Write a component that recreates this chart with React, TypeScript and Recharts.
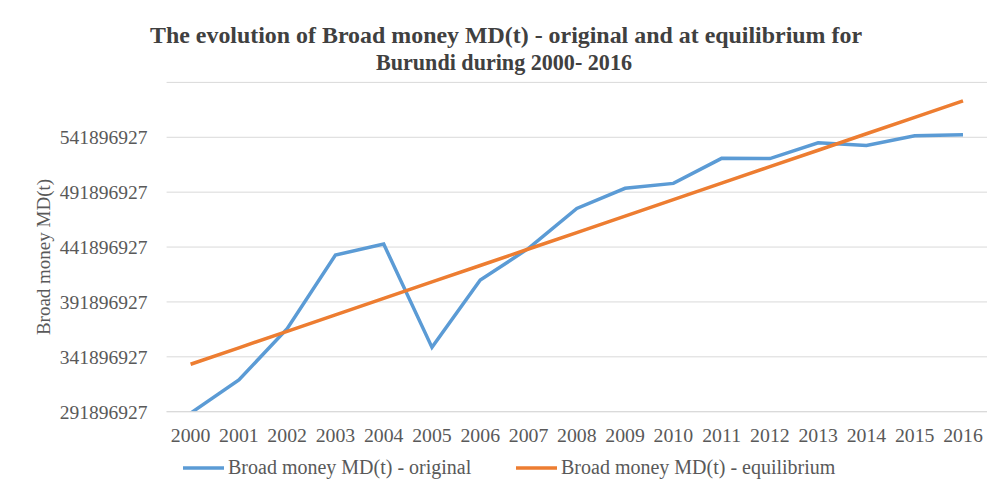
import React from 'react';
import { LineChart, Line, XAxis, YAxis, CartesianGrid } from 'recharts';

const years = ['2000','2001','2002','2003','2004','2005','2006','2007','2008','2009','2010','2011','2012','2013','2014','2015','2016'];
const original = [290600000, 320800000, 367500000, 434600000, 444600000, 350500000, 411800000, 440700000, 477100000, 495400000, 499900000, 522700000, 522500000, 536900000, 534500000, 543300000, 544200000];
const equilibrium = [335100000, 350100000, 365100000, 380100000, 395100000, 410100000, 425100000, 440100000, 455100000, 470100000, 485100000, 500100000, 515100000, 530100000, 545100000, 560100000, 575100000];
const yTicks = [291896927, 341896927, 391896927, 441896927, 491896927, 541896927];
const yDomain = [291896927, 591896927];
const seriesNames = ['Broad money MD(t) - original', 'Broad money MD(t) - equilibrium'];
const titleLines = ['The evolution of Broad money MD(t) - original and at equilibrium  for', 'Burundi  during  2000- 2016'];
const yLabel = 'Broad money MD(t)';

const data = years.map((y, i) => ({ year: y, original: original[i], equilibrium: equilibrium[i] }));

const FONT = '"Liberation Serif", "Times New Roman", serif';
const TEXT = '#595959';
const BLUE = '#5B9BD5';
const ORANGE = '#ED7D31';
const colors = [BLUE, ORANGE];
const legendX = [183, 516];

export default function App() {
  return (
    <div style={{ position: 'relative', width: 995, height: 499, margin: -8, background: '#fff' }}>
      <LineChart width={995} height={499} data={data} margin={{ top: 82.4, right: 8, bottom: 0, left: 0 }}>
        <CartesianGrid horizontal={true} vertical={false} stroke="#d9d9d9" strokeWidth={1} />
        <XAxis
          dataKey="year"
          padding={{ left: 24, right: 24 }}
          axisLine={{ stroke: '#d9d9d9' }}
          tickLine={false}
          tickSize={0}
          tickMargin={16}
          interval={0}
          height={87.3}
          tick={{ fontFamily: FONT, fontSize: 19.8, fill: TEXT }}
        />
        <YAxis
          width={166.6}
          domain={yDomain}
          ticks={yTicks}
          type="number"
          allowDataOverflow={true}
          axisLine={false}
          tickLine={false}
          tickSize={0}
          tickMargin={19}
          interval={0}
          tick={{ fontFamily: FONT, fontSize: 19.5, fill: TEXT }}
        />
        <Line type="linear" dataKey="original" name={seriesNames[0]} stroke={BLUE} strokeWidth={3.5} dot={false} isAnimationActive={false} />
        <Line type="linear" dataKey="equilibrium" name={seriesNames[1]} stroke={ORANGE} strokeWidth={3.5} dot={false} isAnimationActive={false} />
      </LineChart>
      <svg width={995} height={499} style={{ position: 'absolute', left: 0, top: 0, pointerEvents: 'none' }}>
        <rect x={3.5} y={4.5} width={987} height={490} fill="none" stroke="#d0d0d0" strokeWidth={1.5} />
        <text x={506} y={43} textAnchor="middle" fontFamily={FONT} fontWeight="bold" fontSize={23} fill="#404040" textLength={712} lengthAdjust="spacingAndGlyphs">{titleLines[0]}</text>
        <text x={504} y={70} textAnchor="middle" fontFamily={FONT} fontWeight="bold" fontSize={23} fill="#404040" textLength={256} lengthAdjust="spacingAndGlyphs">{titleLines[1]}</text>
        <text x={50} y={257} transform="rotate(-90 50 257)" textAnchor="middle" fontFamily={FONT} fontSize={19} fill={TEXT}>{yLabel}</text>
        {seriesNames.map((name, i) => (
          <g key={name}>
            <line x1={legendX[i]} x2={legendX[i] + 41} y1={468} y2={468} stroke={colors[i]} strokeWidth={3.5} />
            <text x={legendX[i] + 45} y={474} fontFamily={FONT} fontSize={20} fill={TEXT}>{name}</text>
          </g>
        ))}
      </svg>
    </div>
  );
}
